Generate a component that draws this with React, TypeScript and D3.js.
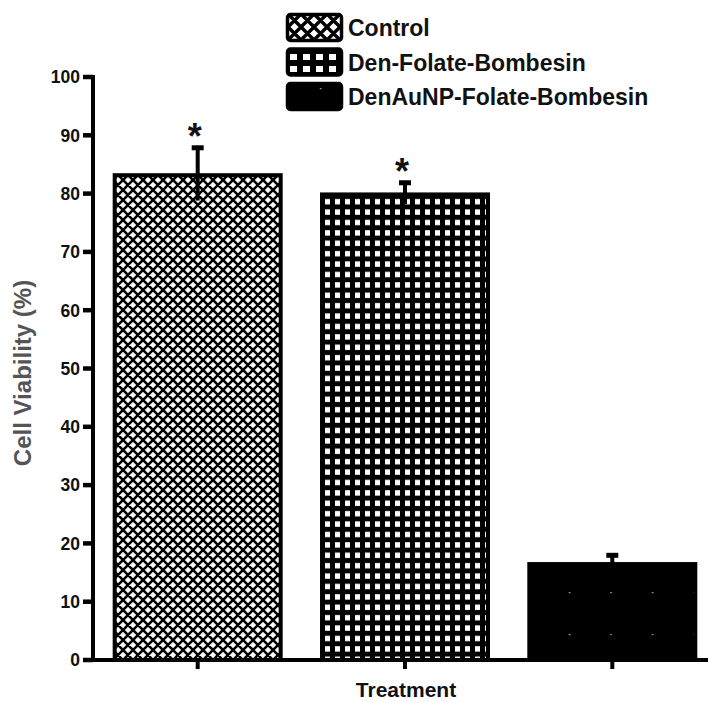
import React from "react";
import * as d3 from "d3";

const categories = ["Control", "Den-Folate-Bombesin", "DenAuNP-Folate-Bombesin"];
const means = [83.5, 80.2, 16.8];
const errors = [4.7, 2.0, 1.5];
const significant = [true, true, false];
const yTicks = [0, 10, 20, 30, 40, 50, 60, 70, 80, 90, 100];
const patternIds = ["pCross", "pGrid", "pSolid"];
const legendPatternIds = ["lCross", "lGrid", "pSolid"];

const W = 708;
const H = 702;

export default function App() {
  const y = d3.scaleLinear().domain([0, 100]).range([660, 77]);
  const x = d3
    .scaleBand<string>()
    .domain(categories)
    .range([93, 717])
    .paddingInner(0.18)
    .paddingOuter(0.095);
  const bw = x.bandwidth();
  const font = "'Liberation Sans', Arial, sans-serif";
  const sw = 4;

  return (
    <svg width={W} height={H} style={{ position: "absolute", left: 0, top: 0, background: "#fff" }}>
      <defs>
        <pattern id="pCross" width={10} height={10} patternUnits="userSpaceOnUse" x={113} y={0}>
          <rect width={10} height={10} fill="#fff" />
          <path d="M-2,-2 L12,12 M-2,8 L2,12 M8,-2 L12,2 M12,-2 L-2,12 M2,-2 L-2,2 M12,8 L8,12" stroke="#000" strokeWidth={2.6} />
        </pattern>
        <pattern id="lCross" width={13} height={13} patternUnits="userSpaceOnUse" x={288} y={14}>
          <rect width={13} height={13} fill="#fff" />
          <path d="M-2,-2 L15,15 M-2,11 L2,15 M11,-2 L15,2 M15,-2 L-2,15 M2,-2 L-2,2 M15,11 L11,15" stroke="#000" strokeWidth={3.4} />
        </pattern>
        <pattern id="pGrid" width={10} height={10.4} patternUnits="userSpaceOnUse" x={322} y={196}>
          <rect width={10} height={10.4} fill="#000" />
          <rect x={3} y={3} width={5} height={5.4} fill="#fff" />
        </pattern>
        <pattern id="lGrid" width={13} height={12} patternUnits="userSpaceOnUse" x={286} y={50}>
          <rect width={13} height={12} fill="#000" />
          <rect x={4} y={4} width={7} height={6} fill="#fff" />
        </pattern>
        <pattern id="pSolid" width={41.5} height={42} patternUnits="userSpaceOnUse" x={549} y={572}>
          <rect width={41.5} height={42} fill="#000" />
          <rect x={20} y={20} width={1.2} height={1.2} fill="#ddd" />
        </pattern>
      </defs>

      {/* bars */}
      {categories.map((c, i) => {
        const x0 = x(c)!;
        return (
          <rect
            key={c}
            x={x0 + sw / 2}
            y={y(means[i]) + sw / 2}
            width={bw - sw}
            height={y(0) - y(means[i]) - sw / 2}
            fill={`url(#${patternIds[i]})`}
            stroke="#000"
            strokeWidth={sw}
          />
        );
      })}

      {/* error bars */}
      {categories.map((c, i) => {
        const cx = x(c)! + bw / 2;
        const top = y(means[i] + errors[i]);
        const bot = y(means[i] - errors[i]);
        return (
          <g key={c + "e"}>
            <line x1={cx} x2={cx} y1={top} y2={bot} stroke="#000" strokeWidth={4} />
            <line x1={cx - 6} x2={cx + 6} y1={top + 2} y2={top + 2} stroke="#000" strokeWidth={5} />
            {i === 2 && (
              <line x1={cx - 6} x2={cx + 6} y1={bot - 2} y2={bot - 2} stroke="#000" strokeWidth={5} />
            )}
          </g>
        );
      })}

      {/* significance */}
      {categories.map((c, i) =>
        significant[i] ? (
          <text
            key={c + "s"}
            x={x(c)! + bw / 2 - 3}
            y={y(means[i] + errors[i]) + 3}
            textAnchor="middle"
            fontFamily={font}
            fontWeight="bold"
            fontSize={36}
            fill="#111"
          >
            *
          </text>
        ) : null
      )}

      {/* y axis */}
      <line x1={93} x2={93} y1={y(100) - 2} y2={y(0) + 2} stroke="#000" strokeWidth={4} />
      {yTicks.map((t) => (
        <g key={t}>
          <line x1={83} x2={93} y1={y(t)} y2={y(t)} stroke="#000" strokeWidth={4.5} />
          <text
            x={80}
            y={y(t)}
            dy="0.36em"
            textAnchor="end"
            fontFamily={font}
            fontWeight="bold"
            fontSize={17.5}
            fill="#111"
          >
            {t}
          </text>
        </g>
      ))}

      {/* x axis */}
      <line x1={91} x2={W} y1={y(0)} y2={y(0)} stroke="#000" strokeWidth={4} />
      {categories.map((c) => (
        <line key={c + "t"} x1={x(c)! + bw / 2} x2={x(c)! + bw / 2} y1={y(0)} y2={y(0) + 9} stroke="#000" strokeWidth={4} />
      ))}

      {/* axis titles */}
      <text
        x={406}
        y={697}
        textAnchor="middle"
        fontFamily={font}
        fontWeight="bold"
        fontSize={21}
        fill="#111"
      >
        Treatment
      </text>
      <text
        transform={`translate(31,373) rotate(-90)`}
        textAnchor="middle"
        fontFamily={font}
        fontWeight="bold"
        fontSize={24}
        fill="#555"
      >
        Cell Viability (%)
      </text>

      {/* legend */}
      {categories.map((c, i) => {
        const top = 13 + i * 34.5;
        return (
          <g key={c + "l"}>
            <rect
              x={287.5}
              y={top + 1.5}
              width={54}
              height={26}
              rx={3}
              fill={`url(#${legendPatternIds[i]})`}
              stroke="#000"
              strokeWidth={3.5}
            />
            <text
              x={348}
              y={top + 15}
              dy="0.36em"
              fontFamily={font}
              fontWeight="bold"
              fontSize={23}
              fill="#111"
            >
              {c}
            </text>
          </g>
        );
      })}
    </svg>
  );
}
